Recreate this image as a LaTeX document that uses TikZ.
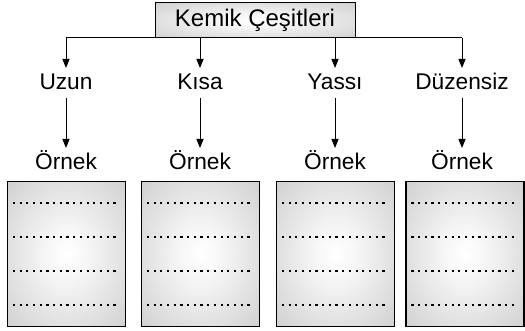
\documentclass[tikz,border=0pt]{standalone}
\usepackage{fontspec}
\setmainfont{Liberation Sans}
\usetikzlibrary{arrows.meta}
\pgfdeclareradialshading{cardshade}{\pgfpoint{0bp}{0bp}}{color(0bp)=(white); color(8bp)=(white!97!black); color(30bp)=(black!15); color(50bp)=(black!27); color(71bp)=(black!36)}
\begin{document}
\begin{tikzpicture}[x=1pt,y=-1pt,
  lbl/.style={font=\fontsize{22.7}{26}\selectfont, inner sep=0pt, anchor=base},
  conn/.style={line width=1pt, -{Triangle[length=9pt,width=7pt]}},
  card/.style={draw=black, line width=1.4pt, shading=cardshade, minimum width=118pt, minimum height=145pt, inner sep=0pt},
  dots/.style={line width=2.2pt, dash pattern=on 2.2pt off 4.5pt}
]
\useasboundingbox (0,0) rectangle (525,331);
\node[draw=black, line width=1pt, shading=cardshade, minimum width=200pt, minimum height=35pt, inner sep=0pt, font=\fontsize{24}{27}\selectfont] (top) at (255,20.5) {Kemik Çeşitleri};
\coordinate (hl) at (66,38);
\coordinate (hr) at (462,38);
\draw[line width=1pt] (hl) -- (hr);
\foreach \x/\n/\t in {66/a/Uzun,200/b/Kısa,335/c/Yassı,462/d/Düzensiz}{
  \node[lbl] (\n) at (\x,90) {\t};
  \node[lbl] (\n o) at (\x,170) {Örnek};
  \coordinate (\n t) at (\x,38);
  \draw[conn] (\n t) -- (\x,68);
  \draw[conn] (\x,98) -- (\x,148);
}
\foreach \x/\n in {66.5/a,200.5/b,335.5/c,465/d}{
  \node[card] (\n box) at (\x,254) {};
  \foreach \y in {203,237,271,305}{
    \draw[dots] ([xshift=6pt]\n box.west |- 0,\y) -- ([xshift=-9pt]\n box.east |- 0,\y);
  }
}
\end{tikzpicture}
\end{document}
